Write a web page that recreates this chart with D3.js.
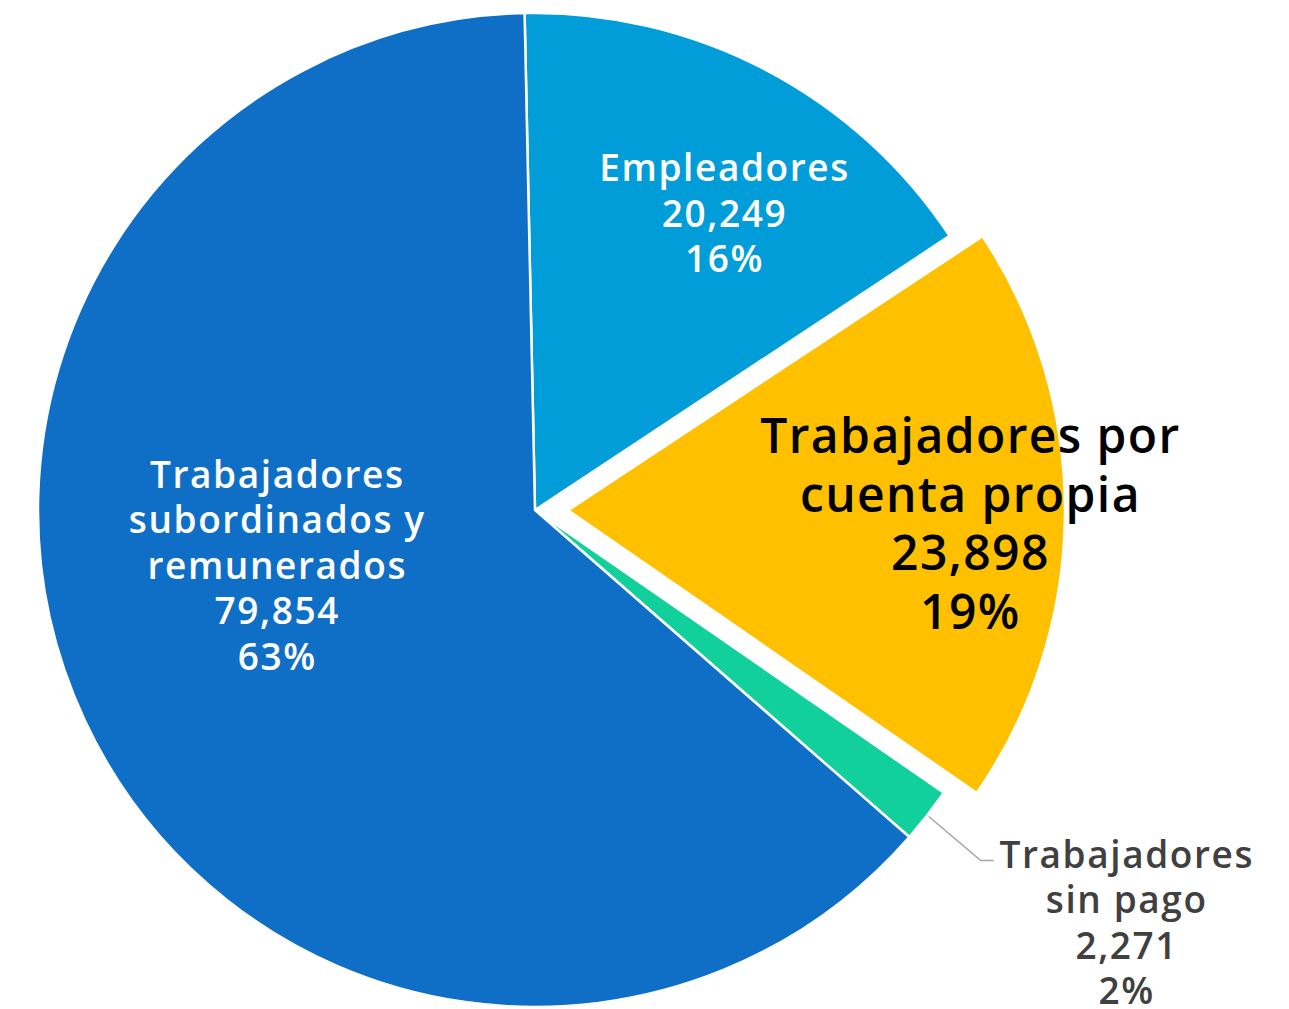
<!DOCTYPE html>
<html>
<head>
<meta charset="utf-8">
<script src="https://cdn.jsdelivr.net/npm/d3@7"></script>
<style>
  body { margin: 0; background: #fff; }
  text { font-family: "Open Sans", "DejaVu Sans", sans-serif; font-weight: 600; }
</style>
</head>
<body>
<div id="chart"></div>
<script>
// data, clockwise from the top
const categories = ["Empleadores", "Trabajadores por cuenta propia", "Trabajadores sin pago", "Trabajadores subordinados y remunerados"];
const labelLines = [["Empleadores"], ["Trabajadores por", "cuenta propia"], ["Trabajadores", "sin pago"], ["Trabajadores", "subordinados y", "remunerados"]];
const values = [20249, 23898, 2271, 79854];
const colors = ["#009DD9", "#FFC000", "#12D09B", "#0F6FC6"];

let width = 1289, height = 1009;
let cx = 535, cy = 510, radius = 497;
let startAngle = -1.2 * Math.PI / 180;

// label placement: angle in degrees (clockwise from top) and distance as fraction of radius
let labelSpots = [
    {a: 32.5, r: 0.71, size: 37, lh: 45.5, ls: 1.6, fill: "#fff"},
    {a: 91.7, r: 0.81, size: 48, lh: 58.5, ls: 1.4, fill: "#000"},
    {a: 124.8, r: 1.45, size: 37, lh: 45.5, ls: 1.6, fill: "#404040"},
    {a: 258.1, r: 0.53, size: 37, lh: 45.5, ls: 1.6, fill: "#fff"}
];
let explode = [0, 33, 0, 0];

let svg = d3.select("#chart").append("svg")
    .attr("width", width)
    .attr("height", height)
    .append("g")
    .attr("transform", "translate(" + cx + "," + cy + ")");

let total = d3.sum(values);
let fmt = d3.format(",");

let pie = d3.pie()
    .sort(null)
    .startAngle(startAngle)
    .endAngle(startAngle + 2 * Math.PI);

let arc = d3.arc()
    .innerRadius(0)
    .outerRadius(radius);

let arcs = pie(values);

function shift(d, i) {
    let mid = (d.startAngle + d.endAngle) / 2;
    let off = explode[i];
    return [off * Math.sin(mid), -off * Math.cos(mid)];
}

svg.selectAll("path.slice")
    .data(arcs)
    .join("path")
    .attr("class", "slice")
    .attr("d", arc)
    .attr("fill", (d, i) => colors[i])
    .attr("stroke", "#fff")
    .attr("stroke-width", 2.5)
    .attr("stroke-linejoin", "round")
    .attr("transform", (d, i) => "translate(" + shift(d, i) + ")");

// leader line for the small slice
let small = arcs[2];
let sMid = (small.startAngle + small.endAngle) / 2;
let p0 = [(radius + 2) * Math.sin(sMid), -(radius + 2) * Math.cos(sMid)];
let p1 = [p0[0] + 52, p0[1] + 44];
let p2 = [p1[0] + 13, p1[1]];
svg.append("polyline")
    .attr("points", [p0, p1, p2].map(p => p.join(",")).join(" "))
    .attr("fill", "none")
    .attr("stroke", "#A6A6A6")
    .attr("stroke-width", 1.5);

// labels
arcs.forEach(function(d, i) {
    let s = labelSpots[i];
    let ang = s.a * Math.PI / 180;
    let sh = shift(d, i);
    let x = sh[0] + s.r * radius * Math.sin(ang);
    let y = sh[1] - s.r * radius * Math.cos(ang);
    let lines = labelLines[i].concat([fmt(values[i]), Math.round(values[i] / total * 100) + "%"]);
    let t = svg.append("text")
        .attr("text-anchor", "middle")
        .attr("font-size", s.size)
        .attr("letter-spacing", s.ls)
        .attr("fill", s.fill);
    t.selectAll("tspan")
        .data(lines)
        .join("tspan")
        .attr("x", x)
        .attr("y", (l, k) => y + (k - (lines.length - 1) / 2) * s.lh)
        .attr("dominant-baseline", "central")
        .text(l => l);
});
</script>
</body>
</html>
